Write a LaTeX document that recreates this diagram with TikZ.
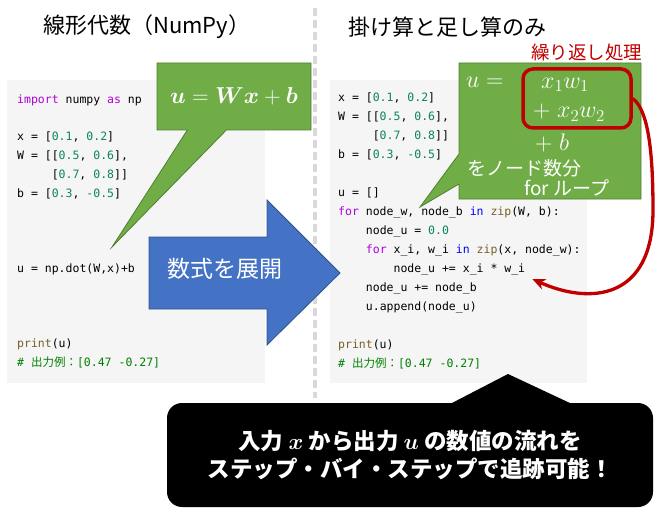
\documentclass[tikz,border=0pt]{standalone}
\usepackage{fix-cm}
\usepackage{fontspec}
\usepackage{bm}
\usetikzlibrary{shapes.callouts,arrows.meta}
\newfontfamily\jp{Noto Sans CJK JP}
\newfontfamily\codefont{DejaVu Sans Mono}
\definecolor{panelgray}{HTML}{F5F5F5}
\definecolor{dashgray}{HTML}{D9D9D9}
\definecolor{calgreen}{HTML}{70AD47}
\definecolor{calgreenline}{HTML}{507E32}
\definecolor{arrblue}{HTML}{4472C4}
\definecolor{arrblueline}{HTML}{2F528F}
\definecolor{loopred}{HTML}{C00000}
\definecolor{pykwc}{HTML}{AF00DB}
\definecolor{pyinc}{HTML}{0000FF}
\definecolor{pyfnc}{HTML}{795E26}
\definecolor{pynumc}{HTML}{098658}
\definecolor{pycomc}{HTML}{008000}
\newcommand{\pykw}[1]{\textcolor{pykwc}{#1}}
\newcommand{\pyin}[1]{\textcolor{pyinc}{#1}}
\newcommand{\pyfn}[1]{\textcolor{pyfnc}{#1}}
\newcommand{\pynum}[1]{\textcolor{pynumc}{#1}}
\newcommand{\pycom}[1]{\textcolor{pycomc}{#1}}
\begin{document}
\begin{tikzpicture}[x=1pt, y=-1pt,
  title/.style={font=\jp\fontsize{22}{26}\selectfont, anchor=west, inner sep=0},
  code/.style={font=\codefont\fontsize{11.5}{14}\selectfont, anchor=west,
               inner sep=0, text height=9pt, text depth=2.5pt},
  bubble/.style={rectangle callout, fill=calgreen, draw=calgreenline,
                 line width=0.8pt, inner sep=0},
  bubtext/.style={text=white, anchor=west, inner sep=0},
  note/.style={fill=black, rounded corners=15pt, text=white, align=center,
               font=\jp\bfseries\fontsize{22.5}{28}\selectfont},
]
\useasboundingbox (0,0) rectangle (661,516);
% panels and divider
\fill[panelgray] (7,80) rectangle (265,383);
\fill[panelgray] (330,80) rectangle (587,383);
\draw[dashgray, line width=4pt, dash pattern=on 8pt off 4pt] (315,8) -- (315,398);
\node[title] (ttlL) at (43,27) {線形代数（NumPy）};
\node[title] (ttlR) at (348,27) {掛け算と足し算のみ};
% left code
\node[code] (l0) at (17,100) {\pykw{import} numpy \pykw{as} np};
\node[code] (l2) at (17,137.6) {x = [\pynum{0.1}, \pynum{0.2}]};
\node[code] (l3) at (17,156.4) {W = [[\pynum{0.5}, \pynum{0.6}],};
\node[code] (l4) at (51.6,175.2) {[\pynum{0.7}, \pynum{0.8}]]};
\node[code] (l5) at (17,194) {b = [\pynum{0.3}, \pynum{-0.5}]};
\node[code] (l9) at (17,269.2) {u = np.dot(W,x)+b};
\node[code] (l13) at (17,344.4) {\pyfn{print}(u)};
\node[code] (l14) at (17,363.2) {\pycom{\# {\jp 出力例：}[0.47 -0.27]}};
% right code
\node[code] (r0) at (338,98) {x = [\pynum{0.1}, \pynum{0.2}]};
\node[code] (r1) at (338,117) {W = [[\pynum{0.5}, \pynum{0.6}],};
\node[code] (r2) at (372.6,136) {[\pynum{0.7}, \pynum{0.8}]]};
\node[code] (r3) at (338,155) {b = [\pynum{0.3}, \pynum{-0.5}]};
\node[code] (r5) at (338,193) {u = []};
\node[code] (r6) at (338,212) {\pykw{for} node\_w, node\_b \pyin{in} \pyfn{zip}(W, b):};
\node[code] (r7) at (365.7,231) {node\_u = \pynum{0.0}};
\node[code] (r8) at (365.7,250) {\pykw{for} x\_i, w\_i \pyin{in} \pyfn{zip}(x, node\_w):};
\node[code] (r9) at (393.4,269) {node\_u += x\_i * w\_i};
\node[code] (r10) at (365.7,288) {node\_u += node\_b};
\node[code] (r11) at (365.7,307) {u.append(node\_u)};
\node[code] (r13) at (338,345) {\pyfn{print}(u)};
\node[code] (r14) at (338,364) {\pycom{\# {\jp 出力例：}[0.47 -0.27]}};
% expand arrow
\filldraw[fill=arrblue, draw=arrblueline, line width=0.8pt]
  (149,237) -- (267,237) -- (267,200) -- (340,273) -- (267,345) -- (267,309) -- (149,309) -- cycle;
\node[text=white, font=\jp\fontsize{23}{27}\selectfont] (expand) at (225,269) {数式を展開};
% callouts
\node[bubble, minimum width=154pt, minimum height=67pt, callout absolute pointer={(112,247)},
      callout pointer width=39pt, text=white, font=\fontsize{23}{27}\selectfont]
  (eqL) at (234,96.5) {$\bm{u}=\bm{W}\bm{x}+\bm{b}$};
\node[bubble, minimum width=182pt, minimum height=136pt, callout absolute pointer={(420,207)},
      callout pointer width=30pt] (eqR) at (550,131) {};
\node[draw=loopred, line width=3.5pt, rounded corners=10pt, minimum width=108pt,
      minimum height=59pt, inner sep=0] (rep) at (577,98.5) {};
\node[font=\jp\fontsize{18.5}{22}\selectfont, text=loopred, anchor=west, inner sep=0]
  (replbl) at (531,52) {繰り返し処理};
\node[bubtext, font=\fontsize{24}{28}\selectfont] (ueq) at (466,82) {$u={}$};
\node[bubtext, font=\fontsize{24}{28}\selectfont] (sum1) at (541,85) {$x_1w_1$};
\node[bubtext, font=\fontsize{24}{28}\selectfont] (sum2) at (533,113) {$+\;x_2w_2$};
\node[bubtext, font=\fontsize{24}{28}\selectfont] (sum3) at (535,143) {$+\;b$};
\node[bubtext, font=\jp\fontsize{19}{22}\selectfont] (perno) at (467,168) {をノード数分};
\node[bubtext, font=\jp\fontsize{19}{22}\selectfont] (forlp) at (524,188) {for ループ};
% loop arrow
\coordinate (loopend) at ([xshift=7pt,yshift=-10pt]r9.east);
\draw[loopred, line width=3.3pt, -{Stealth[length=13pt,width=11pt]}]
  (rep.east) .. controls (648,110) and (653,150) .. (653,210)
  .. controls (653,300) and (590,305) .. (loopend);
% summary note
\fill (450,404) -- (508,374) -- (572,404) -- cycle;
\node[note, minimum width=486pt, minimum height=104pt] (msg) at (410,455)
  {入力 $\bm{x}$ から出力 $\bm{u}$ の数値の流れを\\ステップ・バイ・ステップで追跡可能！};
\end{tikzpicture}
\end{document}
